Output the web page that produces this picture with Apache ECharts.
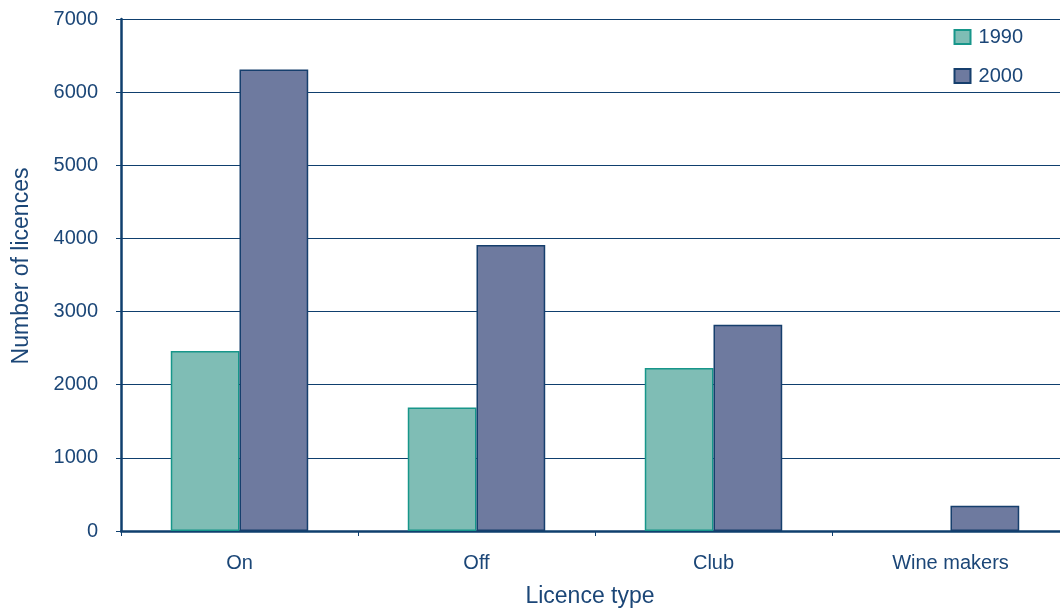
<!DOCTYPE html>
<html>
<head>
<meta charset="utf-8">
<script src="https://cdn.jsdelivr.net/npm/echarts@6/dist/echarts.min.js"></script>
<style>
  html, body { margin: 0; padding: 0; background: #fff; }
  #chart { width: 1060px; height: 610px; }
</style>
</head>
<body>
<div id="chart"></div>
<script>
// Licence counts by type, 1990 vs 2000
const categories = ['On', 'Off', 'Club', 'Wine makers'];
const values1990 = [2460, 1690, 2230, 0];
const values2000 = [6310, 3910, 2820, 345];
const yTicks = [0, 1000, 2000, 3000, 4000, 5000, 6000, 7000];

const navy = '#0f3f6e';
const textColor = '#1b4677';
const font = 'Liberation Sans, Arial, sans-serif';

// Zero-height bars get no outline so nothing shows on the baseline
const toBarData = (vals) => vals.map(v => v === 0 ? { value: v, itemStyle: { borderWidth: 0 } } : v);

const chart = echarts.init(document.getElementById('chart'), null, { renderer: 'canvas' });

chart.setOption({
  animation: false,
  backgroundColor: '#ffffff',
  textStyle: { fontFamily: font },
  grid: { left: 121, right: -9, top: 19, bottom: 79, containLabel: false, outerBoundsMode: 'none' },
  legend: {
    orient: 'vertical',
    right: 32,
    top: 22,
    icon: 'rect',
    itemWidth: 16,
    itemHeight: 14,
    itemGap: 19,
    textStyle: { color: textColor, fontSize: 20, fontFamily: font, padding: [0, 0, 0, 3] },
    data: ['1990', '2000']
  },
  xAxis: {
    type: 'category',
    data: categories,
    name: 'Licence type',
    nameLocation: 'middle',
    nameGap: 54,
    nameTextStyle: { color: textColor, fontSize: 23, fontFamily: font, padding: [0, 10, 0, 0] },
    axisLine: { lineStyle: { color: navy, width: 2.5 } },
    axisTick: { show: true, length: 5, lineStyle: { color: navy, width: 1 } },
    axisLabel: { color: textColor, fontSize: 20, margin: 22, fontFamily: font }
  },
  yAxis: {
    type: 'value',
    min: 0,
    max: 7000,
    interval: 1000,
    name: 'Number of licences',
    nameLocation: 'middle',
    nameGap: 88,
    nameTextStyle: { color: textColor, fontSize: 23, fontFamily: font, padding: [0, 0, 0, 18] },
    axisLine: { show: true, lineStyle: { color: navy, width: 2.5 } },
    axisTick: { show: true, length: 5, lineStyle: { color: navy, width: 1 } },
    axisLabel: {
      color: textColor, fontSize: 20, margin: 23, fontFamily: font,
      formatter: v => yTicks.includes(v) ? String(v) : ''
    },
    splitLine: { show: true, lineStyle: { color: navy, width: 1 } }
  },
  series: [
    {
      name: '1990',
      type: 'bar',
      data: toBarData(values1990),
      barGap: '0%',
      barCategoryGap: '42%',
      itemStyle: { color: '#7fbdb5', borderColor: '#17968a', borderWidth: 1.5 }
    },
    {
      name: '2000',
      type: 'bar',
      data: toBarData(values2000),
      itemStyle: { color: '#6e7a9f', borderColor: '#163f6d', borderWidth: 1.5 }
    }
  ]
});
</script>
</body>
</html>
